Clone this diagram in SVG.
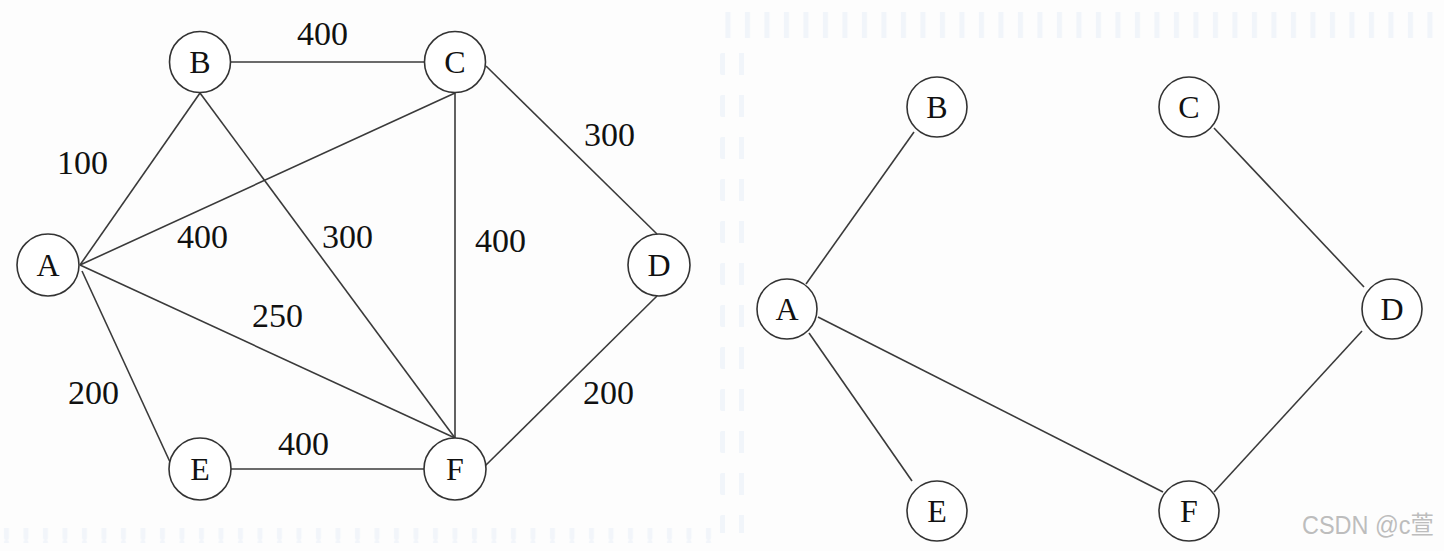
<svg xmlns="http://www.w3.org/2000/svg" width="1444" height="551" viewBox="0 0 1444 551">
<style>
.n{fill:#fff;stroke:#333;stroke-width:1.6}
.e{stroke:#3a3a3a;stroke-width:1.6;fill:none}
.lt{font-family:"Liberation Serif",serif;font-size:32px;fill:#111;text-anchor:middle}
.w{font-family:"Liberation Serif",serif;font-size:34px;fill:#111}
.wm{font-family:"Liberation Sans","Noto Sans CJK SC",sans-serif;font-size:25px;fill:#bdbdbd}
</style>
<defs>
<pattern id="hd" x="0" y="0" width="19.5" height="60" patternUnits="userSpaceOnUse">
<rect x="4" y="0" width="5" height="60" rx="2" fill="#e4ecf7"/>
</pattern>
<pattern id="vd" x="0" y="53" width="60" height="42" patternUnits="userSpaceOnUse">
<rect x="0" y="0" width="60" height="22" rx="2" fill="#e4ecf7"/>
</pattern>
</defs>
<rect width="1444" height="551" fill="#fdfdfd"/>
<rect x="718" y="12" width="726" height="26" fill="url(#hd)" opacity="0.5"/>
<rect x="0" y="528" width="716" height="15" fill="url(#hd)" opacity="0.45"/>
<rect x="720" y="53" width="5" height="480" fill="url(#vd)" opacity="0.5"/>
<rect x="739" y="53" width="5" height="480" fill="url(#vd)" opacity="0.5"/>
<g id="connectors">
<line class="e" x1="80" y1="265" x2="200" y2="93"/>
<line class="e" x1="80" y1="265" x2="455" y2="93"/>
<line class="e" x1="80" y1="265" x2="455" y2="438"/>
<line class="e" x1="82" y1="271" x2="170" y2="462"/>
<line class="e" x1="231" y1="62" x2="425" y2="62"/>
<line class="e" x1="200" y1="93" x2="455" y2="438"/>
<line class="e" x1="455" y1="93" x2="455" y2="438"/>
<line class="e" x1="486" y1="66" x2="657" y2="234"/>
<line class="e" x1="657" y1="296" x2="485" y2="466"/>
<line class="e" x1="231" y1="469" x2="425" y2="469"/>
<line class="e" x1="806" y1="284" x2="914" y2="132"/>
<line class="e" x1="809" y1="333" x2="912" y2="481"/>
<line class="e" x1="818" y1="317" x2="1163" y2="492"/>
<line class="e" x1="1214" y1="128" x2="1364" y2="287"/>
<line class="e" x1="1362" y1="331" x2="1214" y2="492"/>
</g>
<g id="weights">
<text class="w" x="297" y="45">400</text>
<text class="w" x="57" y="174">100</text>
<text class="w" x="177" y="248">400</text>
<text class="w" x="322" y="248">300</text>
<text class="w" x="252" y="327">250</text>
<text class="w" x="68" y="404">200</text>
<text class="w" x="278" y="455">400</text>
<text class="w" x="475" y="252">400</text>
<text class="w" x="584" y="146">300</text>
<text class="w" x="583" y="404">200</text>
</g>
<g id="L-A"><circle class="n" cx="48" cy="265" r="31"/><text class="lt" x="48" y="276">A</text></g>
<g id="L-B"><circle class="n" cx="200" cy="62" r="30.5"/><text class="lt" x="200" y="73">B</text></g>
<g id="L-C"><circle class="n" cx="455" cy="62" r="30.5"/><text class="lt" x="455" y="73">C</text></g>
<g id="L-D"><circle class="n" cx="659" cy="265" r="31"/><text class="lt" x="659" y="276">D</text></g>
<g id="L-E"><circle class="n" cx="200" cy="469" r="31"/><text class="lt" x="200" y="480">E</text></g>
<g id="L-F"><circle class="n" cx="455" cy="469" r="31"/><text class="lt" x="455" y="480">F</text></g>
<g id="R-A"><circle class="n" cx="787" cy="309" r="30"/><text class="lt" x="787" y="320">A</text></g>
<g id="R-B"><circle class="n" cx="937" cy="107" r="30"/><text class="lt" x="937" y="118">B</text></g>
<g id="R-C"><circle class="n" cx="1189" cy="107" r="30"/><text class="lt" x="1189" y="118">C</text></g>
<g id="R-D"><circle class="n" cx="1392" cy="309" r="30"/><text class="lt" x="1392" y="320">D</text></g>
<g id="R-E"><circle class="n" cx="937" cy="511" r="30"/><text class="lt" x="937" y="522">E</text></g>
<g id="R-F"><circle class="n" cx="1189" cy="511" r="30"/><text class="lt" x="1189" y="522">F</text></g>
<text class="wm" x="1302" y="534" textLength="132" lengthAdjust="spacingAndGlyphs">CSDN @c萱</text>
</svg>
